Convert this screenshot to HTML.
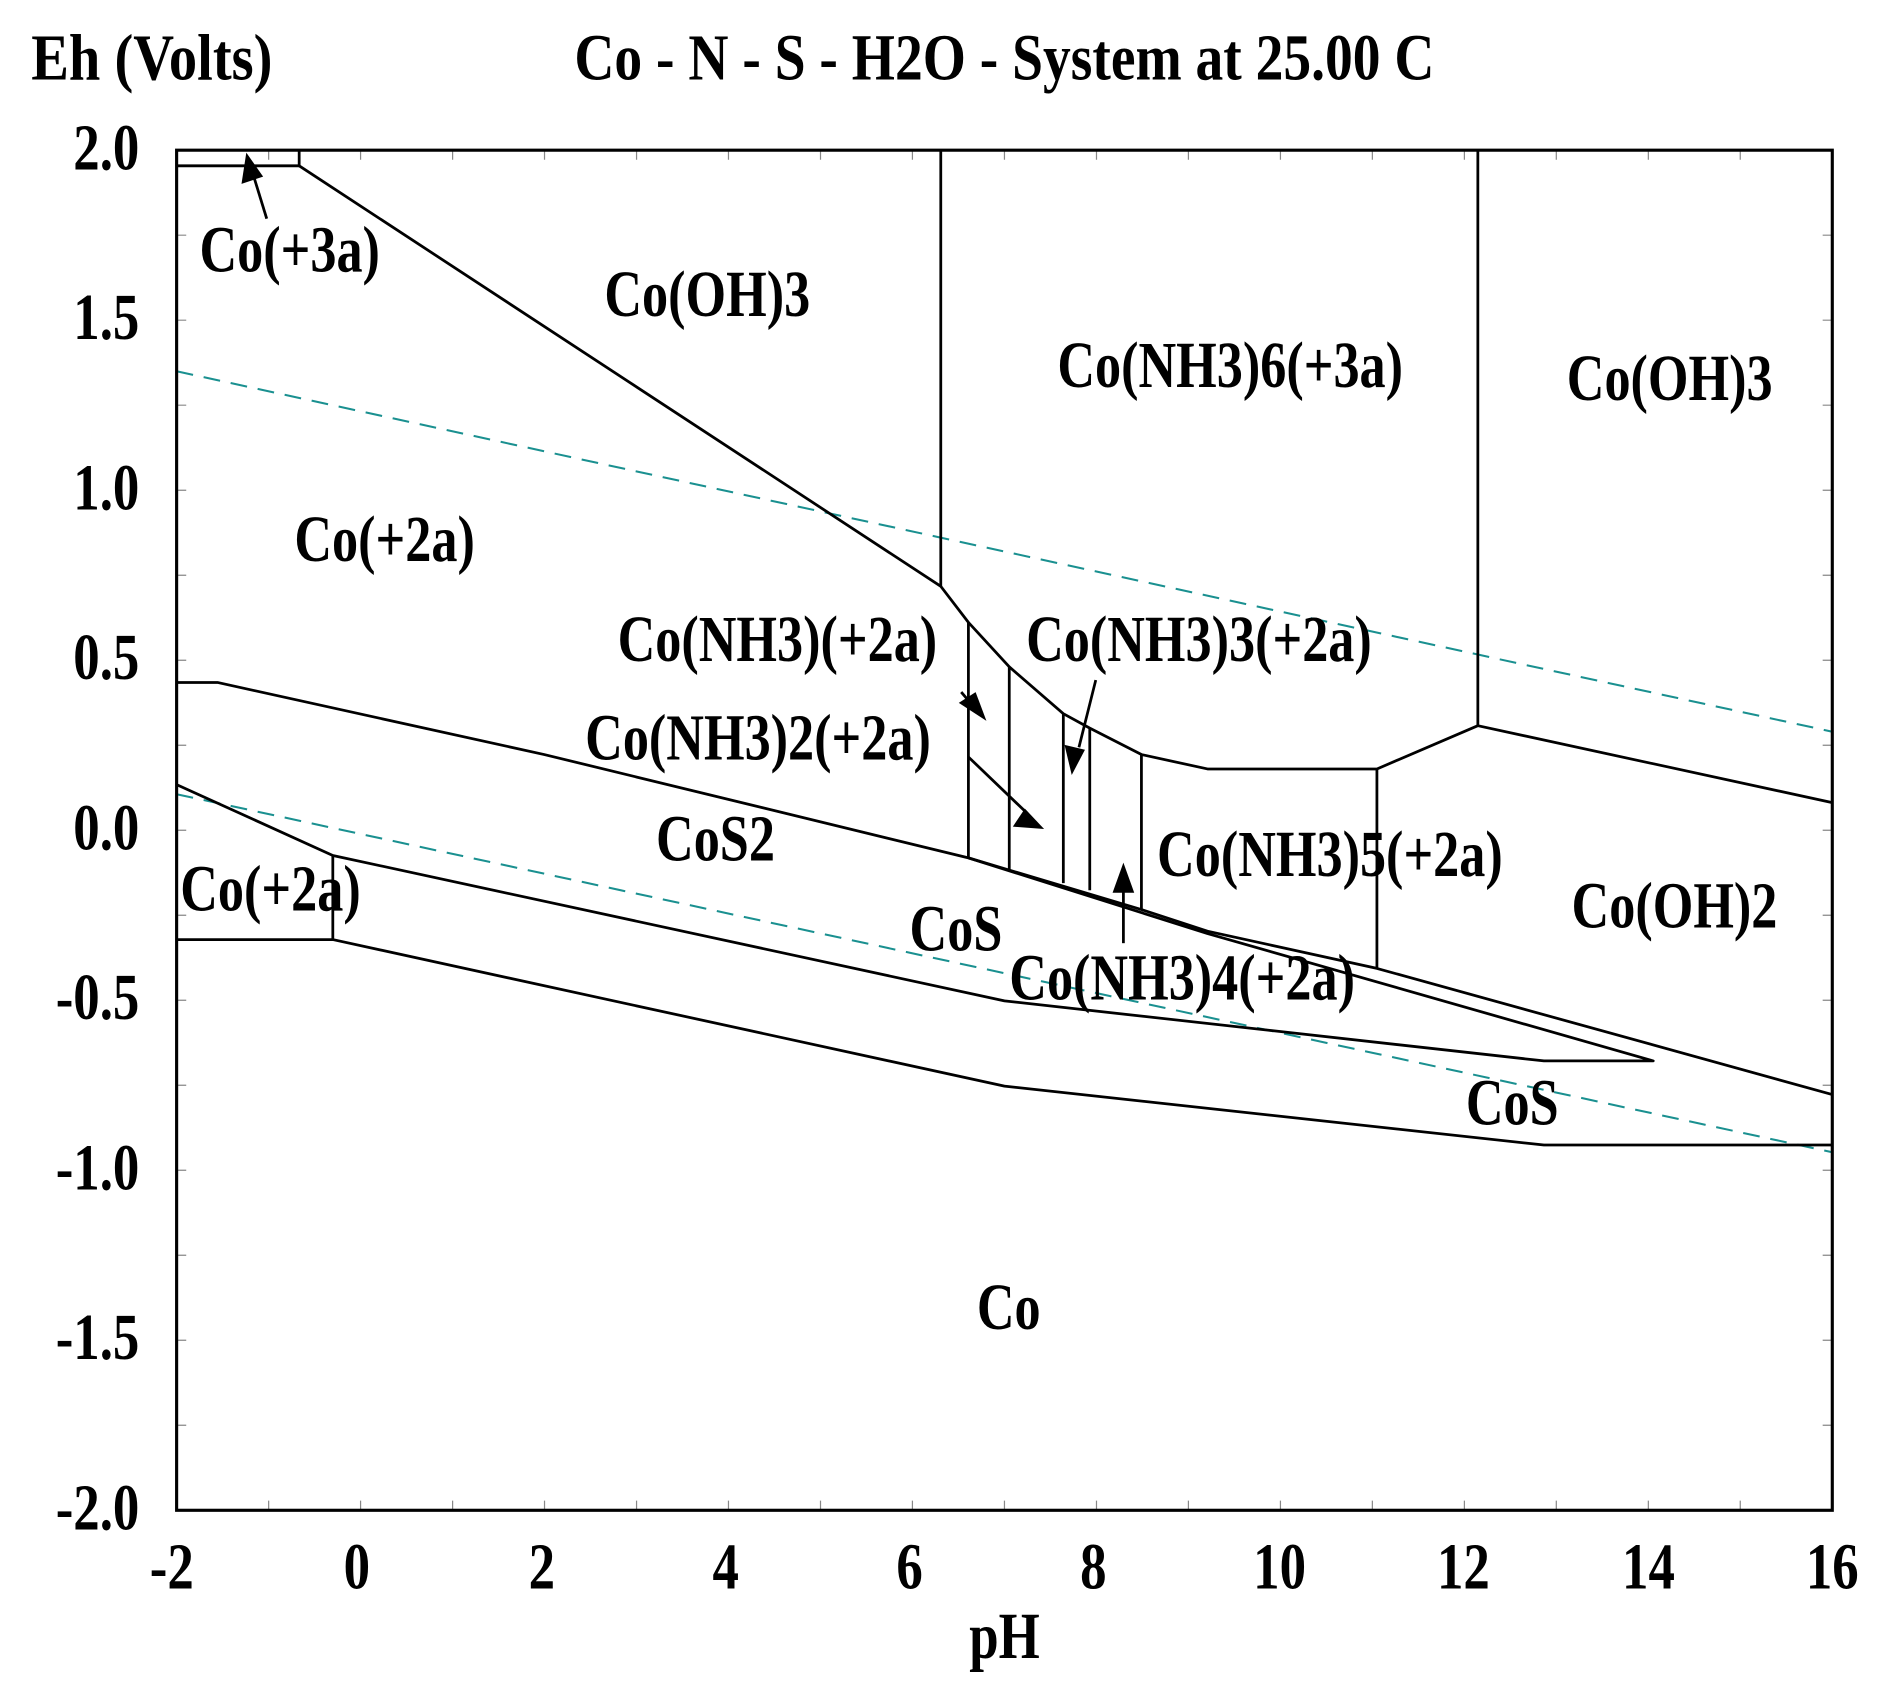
<!DOCTYPE html>
<html><head><meta charset="utf-8"><style>
html,body{margin:0;padding:0;background:#fff;}
svg{display:block;}
text{font-family:"Liberation Serif",serif;font-weight:bold;fill:#000;font-size:55px;}
</style></head><body>
<svg width="1884" height="1692" viewBox="0 0 1884 1692" xmlns="http://www.w3.org/2000/svg">
<g transform="scale(1.2015)">
<g stroke="#888" stroke-width="1">
<path d="M223.6,125v8M300.1,125v8M376.7,125v8M453.2,125v8M529.8,125v8M606.3,125v8M682.9,125v8M759.4,125v8M836,125v8M912.6,125v8M989.1,125v8M1065.7,125v8M1142.2,125v8M1218.8,125v8M1295.3,125v8M1371.9,125v8M1448.4,125v8"/>
<path d="M223.6,1257v-8M300.1,1257v-8M376.7,1257v-8M453.2,1257v-8M529.8,1257v-8M606.3,1257v-8M682.9,1257v-8M759.4,1257v-8M836,1257v-8M912.6,1257v-8M989.1,1257v-8M1065.7,1257v-8M1142.2,1257v-8M1218.8,1257v-8M1295.3,1257v-8M1371.9,1257v-8M1448.4,1257v-8"/>
<path d="M147,195.75h8M147,266.5h8M147,337.25h8M147,408h8M147,478.75h8M147,549.5h8M147,620.25h8M147,691h8M147,761.75h8M147,832.5h8M147,903.25h8M147,974h8M147,1044.75h8M147,1115.5h8M147,1186.25h8"/>
<path d="M1525,195.75h-8M1525,266.5h-8M1525,337.25h-8M1525,408h-8M1525,478.75h-8M1525,549.5h-8M1525,620.25h-8M1525,691h-8M1525,761.75h-8M1525,832.5h-8M1525,903.25h-8M1525,974h-8M1525,1044.75h-8M1525,1115.5h-8M1525,1186.25h-8"/>
</g>
<g stroke="#1a9090" stroke-width="1.7" stroke-dasharray="14,9" fill="none">
<path d="M147,309L1525,609"/>
<path d="M147,661L1525,959"/>
</g>
<g stroke="#000" stroke-width="2.3" fill="none" stroke-linejoin="round">
<path d="M147,138H249V125"/>
<path d="M249,138L783,488L806,518L840,555L885,594L907,606L950,628L1005,640H1146L1230,604L1525,668"/>
<path d="M783,125V488M1230,125V604"/>
<path d="M806,518V714M840,555V724M885,594V735M907,606V741M950,628V757M1146,640V806"/>
<path d="M147,568H181L453,628L806,714L950,757L1005,775L1146,806L1525,911"/>
<path d="M806,714L1005,777L1376,883H1285L836,833L277,712L147,653"/>
<path d="M277,712V782M147,782H277L836,904L1285,953H1525"/>
<path d="M222,182L210,143"/>
<path d="M800,576L812,590"/>
<path d="M806,630L855,677"/>
<path d="M912,566L898,622"/>
<path d="M935,785V740"/>
</g>
<g fill="#000">
<polygon points="205,127 201,153 219,147"/>
<polygon points="821,600 798,585 812,576"/>
<polygon points="869,690 843,688 853,673"/>
<polygon points="892,645 886,620 903,624"/>
<polygon points="935,718 926,743 944,743"/>
</g>
<rect x="147" y="125" width="1378" height="1132" fill="none" stroke="#000" stroke-width="2.6"/>
<g text-anchor="end">
<text transform="translate(116,141) scale(0.8,1)">2.0</text>
<text transform="translate(116,282) scale(0.8,1)">1.5</text>
<text transform="translate(116,424) scale(0.8,1)">1.0</text>
<text transform="translate(116,565) scale(0.8,1)">0.5</text>
<text transform="translate(116,707) scale(0.8,1)">0.0</text>
<text transform="translate(116,848) scale(0.8,1)">-0.5</text>
<text transform="translate(116,990) scale(0.8,1)">-1.0</text>
<text transform="translate(116,1131) scale(0.8,1)">-1.5</text>
<text transform="translate(116,1273) scale(0.8,1)">-2.0</text>
</g>
<g text-anchor="middle">
<text transform="translate(143,1322) scale(0.8,1)">-2</text>
<text transform="translate(297,1322) scale(0.8,1)">0</text>
<text transform="translate(451,1322) scale(0.8,1)">2</text>
<text transform="translate(604,1322) scale(0.8,1)">4</text>
<text transform="translate(757,1322) scale(0.8,1)">6</text>
<text transform="translate(910,1322) scale(0.8,1)">8</text>
<text transform="translate(1065,1322) scale(0.8,1)">10</text>
<text transform="translate(1218,1322) scale(0.8,1)">12</text>
<text transform="translate(1372,1322) scale(0.8,1)">14</text>
<text transform="translate(1525,1322) scale(0.8,1)">16</text>
<text transform="translate(836,1380) scale(0.8,1)">pH</text>
</g>
<text transform="translate(26,66) scale(0.855,1)">Eh (Volts)</text>
<text transform="translate(478,66) scale(0.84,1)">Co - N - S - H2O - System at 25.00 C</text>
<g>
<text transform="translate(166,226) scale(0.79,1)">Co(+3a)</text>
<text transform="translate(503,263) scale(0.79,1)">Co(OH)3</text>
<text transform="translate(880,322) scale(0.79,1)">Co(NH3)6(+3a)</text>
<text transform="translate(1304,333) scale(0.79,1)">Co(OH)3</text>
<text transform="translate(245,467) scale(0.79,1)">Co(+2a)</text>
<text transform="translate(514,550) scale(0.79,1)">Co(NH3)(+2a)</text>
<text transform="translate(854,550) scale(0.79,1)">Co(NH3)3(+2a)</text>
<text transform="translate(487,632) scale(0.79,1)">Co(NH3)2(+2a)</text>
<text transform="translate(546,716) scale(0.79,1)">CoS2</text>
<text transform="translate(963,729) scale(0.79,1)">Co(NH3)5(+2a)</text>
<text transform="translate(150,758) scale(0.79,1)">Co(+2a)</text>
<text transform="translate(1308,772) scale(0.79,1)">Co(OH)2</text>
<text transform="translate(757,791) scale(0.79,1)">CoS</text>
<text transform="translate(840,832) scale(0.79,1)">Co(NH3)4(+2a)</text>
<text transform="translate(1220,936) scale(0.79,1)">CoS</text>
<text transform="translate(813,1106) scale(0.79,1)">Co</text>
</g>
</g>
</svg>
</body></html>
